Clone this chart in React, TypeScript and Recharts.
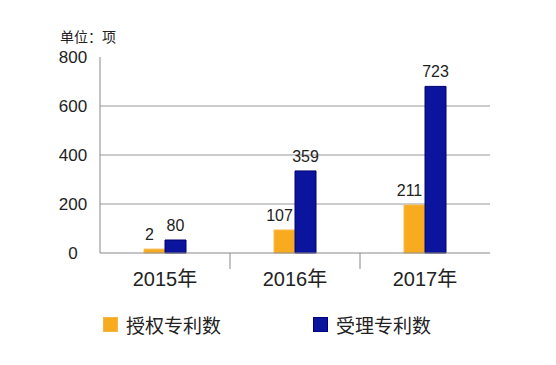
import { BarChart, Bar, XAxis, YAxis, CartesianGrid, LabelList } from "recharts";

const years = ["2015年", "2016年", "2017年"];
// bar heights as drawn in the picture
const granted = [16, 94, 196];
const accepted = [53, 335, 680];
// numbers printed above the bars
const grantedLabels = ["2", "107", "211"];
const acceptedLabels = ["80", "359", "723"];
const yTicks = [0, 200, 400, 600, 800];
const seriesNames = ["授权专利数", "受理专利数"];

const data = years.map((year, i) => ({
  year,
  granted: granted[i],
  accepted: accepted[i],
}));

const FONT = "'Liberation Sans', Arial, 'Noto Sans CJK SC', sans-serif";
const ORANGE = "#F9AB1F";
const BLUE = "#0A149C";

function YTick(props: any) {
  const { y, payload } = props;
  return (
    <text x={73} y={y} dy={6} textAnchor="middle" fontSize={17} fill="#222" fontFamily={FONT}>
      {payload.value}
    </text>
  );
}

function XTick(props: any) {
  const { x, y, payload, index } = props;
  const half = 65;
  return (
    <g>
      {index > 0 && <line x1={x - half} x2={x - half} y1={y - 8} y2={y + 8} stroke="#888" />}
      <text x={x} y={y} dy={25} textAnchor="middle" fontSize={20} fill="#222" fontFamily={FONT}>
        {payload.value}
      </text>
    </g>
  );
}

function makeLabel(labels: string[], dx: number) {
  return (props: any) => {
    const { x, y, width, index } = props;
    return (
      <text x={x + width / 2 + dx} y={y - 9} textAnchor="middle" fontSize={16} fill="#222" fontFamily={FONT}>
        {labels[index]}
      </text>
    );
  };
}

function LegendBox() {
  const item = (color: string, border: string, text: string) => (
    <div style={{ display: "flex", alignItems: "center", width: 210 }}>
      <span style={{ display: "inline-block", width: 13, height: 13, background: color, border: `1px solid ${border}`, marginRight: 8 }} />
      <span style={{ fontSize: 19, color: "#222", fontFamily: FONT }}>{text}</span>
    </div>
  );
  return (
    <div style={{ position: "absolute", left: 103, top: 311, display: "flex" }}>
      {item(ORANGE, "#F5B445", seriesNames[0])}
      {item(BLUE, "#00007A", seriesNames[1])}
    </div>
  );
}

export default function App() {
  return (
    <div style={{ position: "absolute", left: 0, top: 0, width: 556, height: 365, background: "#fff" }}>
      <div style={{ position: "absolute", left: 60, top: 26, fontSize: 14, color: "#222", fontFamily: FONT }}>
        单位：项
      </div>
      <BarChart
        width={556}
        height={365}
        data={data}
        margin={{ top: 57, right: 66, bottom: 82, left: 0 }}
        barGap={0}
        barSize={21}
      >
        <CartesianGrid vertical={false} horizontalValues={[200, 400, 600]} stroke="#999" />
        <YAxis
          width={100}
          domain={[0, 800]}
          ticks={yTicks}
          interval={0}
          axisLine={{ stroke: "#888" }}
          tickLine={false}
          tick={<YTick />}
        />
        <XAxis
          dataKey="year"
          height={30}
          axisLine={{ stroke: "#888" }}
          tickLine={false}
          tick={<XTick />}
          interval={0}
        />
        <Bar dataKey="granted" name={seriesNames[0]} fill={ORANGE} stroke="#F7BC55" isAnimationActive={false}>
          <LabelList dataKey="granted" content={makeLabel(grantedLabels, -5)} />
        </Bar>
        <Bar dataKey="accepted" name={seriesNames[1]} fill={BLUE} stroke="#02006F" isAnimationActive={false}>
          <LabelList dataKey="accepted" content={makeLabel(acceptedLabels, 0)} />
        </Bar>
      </BarChart>
      <LegendBox />
    </div>
  );
}
